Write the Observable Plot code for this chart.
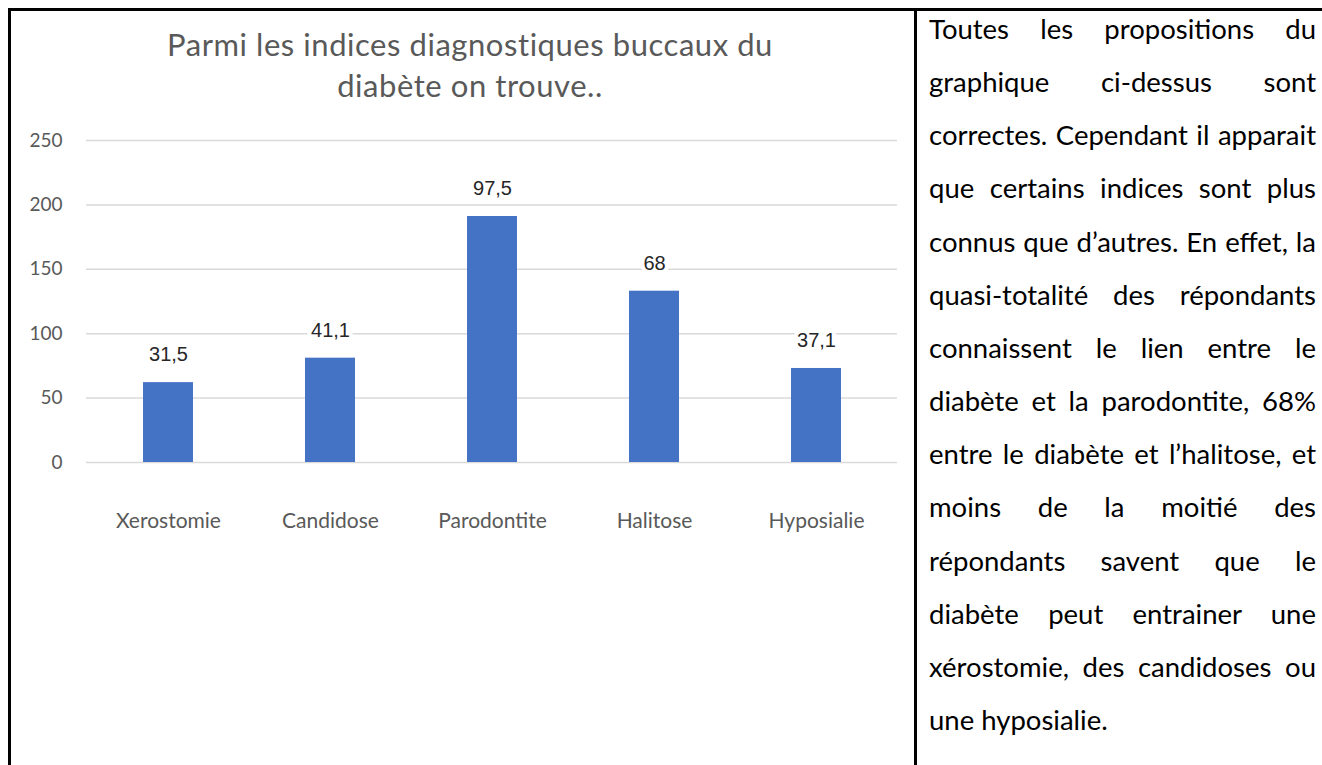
<!DOCTYPE html>
<html>
<head>
<meta charset="utf-8">
<script src="https://cdn.jsdelivr.net/npm/d3@7"></script>
<script src="https://cdn.jsdelivr.net/npm/@observablehq/plot@0.6"></script>
<style>
  html, body { margin: 0; padding: 0; background: #fff; width: 1322px; height: 765px; overflow: hidden; }
  #chart { position: absolute; left: 0; top: 0; }
  #title { position: absolute; left: 14px; top: 24px; width: 912px; text-align: center;
           font-family: Lato, sans-serif; font-size: 31px; line-height: 41px; color: #595959; letter-spacing: 0.55px; }
  .bord { position: absolute; background: #000; }
  #text { position: absolute; left: 929px; top: 2px; width: 387px;
          font-family: Lato, sans-serif; font-size: 27.5px; line-height: 53.15px; color: #000; }
  #text div { text-align: justify; text-align-last: justify; white-space: nowrap; }
  #text div.last { text-align-last: left; }
</style>
</head>
<body>
<div id="chart"></div>
<div id="title">Parmi les indices diagnostiques buccaux du<br>diabète on trouve..</div>
<div id="text"></div>
<div class="bord" style="left:8px;top:8px;width:1314px;height:3px"></div>
<div class="bord" style="left:8px;top:8px;width:3px;height:757px"></div>
<div class="bord" style="left:914px;top:8px;width:3px;height:757px"></div>
<script>
const categories = ["Xerostomie", "Candidose", "Parodontite", "Halitose", "Hyposialie"];
const counts = [62, 81, 191, 133, 73];
const labels = ["31,5", "41,1", "97,5", "68", "37,1"];
const yTicks = [0, 50, 100, 150, 200, 250];
const textLines = [
  "Toutes les propositions du",
  "graphique ci-dessus sont",
  "correctes. Cependant il apparait",
  "que certains indices sont plus",
  "connus que d’autres. En effet, la",
  "quasi-totalité des répondants",
  "connaissent le lien entre le",
  "diabète et la parodontite, 68%",
  "entre le diabète et l’halitose, et",
  "moins de la moitié des",
  "répondants savent que le",
  "diabète peut entrainer une",
  "xérostomie, des candidoses ou",
  "une hyposialie."
];

const data = categories.map((c, i) => ({cat: c, value: counts[i], label: labels[i]}));

const chart = Plot.plot({
  width: 912, height: 560,
  marginLeft: 86, marginRight: 15, marginTop: 140, marginBottom: 98,
  style: {fontFamily: "Lato, sans-serif", background: "transparent", overflow: "visible"},
  x: {domain: categories, padding: 0, label: null},
  y: {domain: [0, 250], label: null},
  marks: [
    Plot.ruleY(yTicks, {stroke: "#d9d9d9", strokeWidth: 1.5}),
    Plot.barY(data, {x: "cat", y: "value", fill: "#4472C4", insetLeft: 56, insetRight: 56}),
    Plot.text(data, {x: "cat", y: "value", text: "label", dy: -28, fill: "#262626", fontSize: 20,
      fontFamily: "Liberation Sans, Arial, sans-serif", stroke: "white", strokeWidth: 8}),
    Plot.axisY({ticks: yTicks, tickSize: 0, tickPadding: 24, fontSize: 19, color: "#595959", label: null}),
    Plot.axisX({tickSize: 0, tickPadding: 51, fontSize: 21, color: "#595959", label: null})
  ]
});
document.getElementById("chart").appendChild(chart);

const t = document.getElementById("text");
textLines.forEach((l, i) => {
  const d = document.createElement("div");
  const s = document.createElement("span");
  s.textContent = l;
  d.appendChild(s);
  if (i === textLines.length - 1) d.className = "last";
  t.appendChild(d);
});
// keep each line inside the column width
t.querySelectorAll("div").forEach(d => {
  const s = d.firstChild;
  s.style.display = "inline-block";
  const w = s.getBoundingClientRect().width;
  s.style.display = "";
  if (w > 387) {
    const n = s.textContent.length;
    d.style.letterSpacing = (-(w - 386) / n) + "px";
  }
});
</script>
</body>
</html>
